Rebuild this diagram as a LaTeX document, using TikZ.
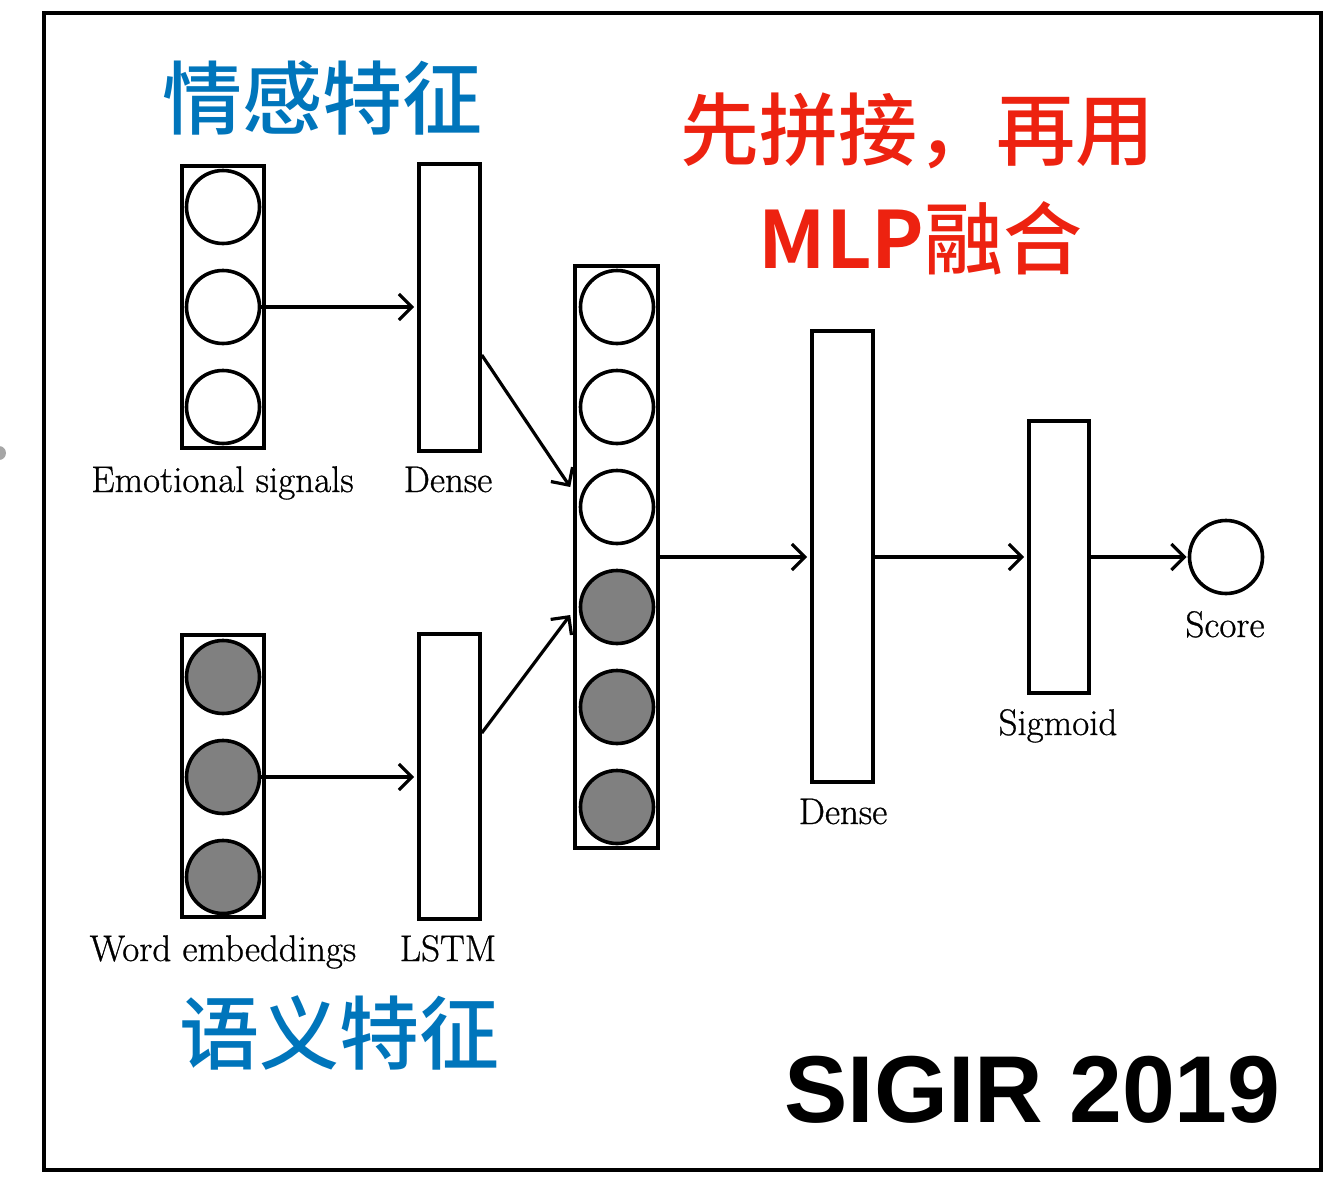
\documentclass[tikz,border=0pt]{standalone}
\usepackage{fontspec}
\newfontfamily\cjk{Noto Sans CJK SC Medium}
\newfontfamily\cjkb{Noto Sans CJK SC Bold}
\newfontfamily\hv{Liberation Sans}
\newfontfamily\lblfont{Latin Modern Roman}[FakeBold=0.8]
\usetikzlibrary{arrows.meta}
\definecolor{cblue}{RGB}{0,117,187}
\definecolor{cred}{RGB}{237,34,16}
\definecolor{cgrey}{RGB}{128,128,128}
\begin{document}
\begin{tikzpicture}[x=1pt,y=-1pt,
  layer/.style={draw, rectangle, line width=3.6pt, inner sep=0pt},
  neuron/.style={draw, circle, line width=3.6pt, minimum size=73pt, inner sep=0pt},
  dark/.style={fill=cgrey},
  lbl/.style={font=\lblfont\fontsize{37}{42}\selectfont, anchor=base, inner sep=0pt},
  zh/.style={font=\cjk\fontsize{80}{90}\selectfont, anchor=base, inner sep=0pt},
  conn/.style={line width=3.2pt, -{Straight Barb[length=13pt,width=26pt,line width=3.2pt]}}]
\useasboundingbox (0,0) rectangle (1331,1181);
\fill[white] (0,0) rectangle (1331,1181);
% frame
\draw[line width=4.5pt] (44,13) rectangle (1321,1170);
\fill[gray!70] (-1,453) circle (7);

% emotional signals column
\node[layer, minimum width=82pt, minimum height=282pt] (emo) at (223,307) {};
\node[neuron] (e1) at (223,207) {};
\node[neuron] (e2) at (223,307) {};
\node[neuron] (e3) at (223,407) {};
\node[layer, minimum width=61pt, minimum height=287pt] (dense) at (449.5,307.5) {};

% word embeddings column
\node[layer, minimum width=82pt, minimum height=282pt] (word) at (223,776) {};
\node[neuron, dark] (w1) at (223,677) {};
\node[neuron, dark] (w2) at (223,777) {};
\node[neuron, dark] (w3) at (223,877) {};
\node[layer, minimum width=61pt, minimum height=285pt] (lstm) at (449.5,776.5) {};

% concatenation
\node[layer, minimum width=83pt, minimum height=582pt] (cat) at (616.5,557) {};
\node[neuron] (c1) at (617,307) {};
\node[neuron] (c2) at (617,407) {};
\node[neuron] (c3) at (617,507) {};
\node[neuron, dark] (c4) at (617,607) {};
\node[neuron, dark] (c5) at (617,707) {};
\node[neuron, dark] (c6) at (617,807) {};

\node[layer, minimum width=61pt, minimum height=451pt] (dense2) at (842.5,556.5) {};
\node[layer, minimum width=60pt, minimum height=272pt] (sig) at (1059,557) {};
\node[neuron] (score) at (1226,557) {};

% labels
\node[lbl] (l1) at (222.5,492) {Emotional signals};
\node[lbl] (l2) at (448,492) {Dense};
\node[lbl] (l3) at (223,961) {Word embeddings};
\node[lbl] (l4) at (448,961) {LSTM};
\node[lbl] (l5) at (843,824) {Dense};
\node[lbl] (l6) at (1058,735) {Sigmoid};
\node[lbl] (l7) at (1225,637) {Score};

% connectors
\draw[conn] (e2.east) -- ([xshift=-3pt]dense.west |- e2.east);
\draw[conn] (w2.east) -- ([xshift=-3pt]lstm.west |- w2.east);
\draw[conn] ([yshift=-47.5pt]dense.east) -- ([xshift=-3pt,yshift=70pt]cat.west);
\draw[conn] ([yshift=43.5pt]lstm.east) -- ([xshift=-3pt,yshift=-58pt]cat.west);
\draw[conn] (cat.east) -- ([xshift=-3pt]dense2.west |- cat.east);
\draw[conn] (dense2.east |- cat.east) -- ([xshift=-3pt]sig.west |- cat.east);
\draw[conn] (sig.east |- cat.east) -- ([xshift=-1pt]score.west);

% annotations
\node[zh, text=cblue] (t1) at (322.5,128) {情感特征};
\node[zh, text=cblue] (t2) at (339.5,1063) {语义特征};
\node[zh, text=cred, font=\cjk\fontsize{79}{90}\selectfont] (t3) at (917.5,159) {先拼接，再用};
\node[zh, text=cred, font=\cjk\fontsize{79}{90}\selectfont] (t4) at (920.5,268) {{\cjkb MLP}融合};
\node[anchor=base, inner sep=0pt, font=\hv\bfseries\fontsize{95}{110}\selectfont] (t5) at (1032.5,1122) {SIGIR 2019};
\end{tikzpicture}
\end{document}
